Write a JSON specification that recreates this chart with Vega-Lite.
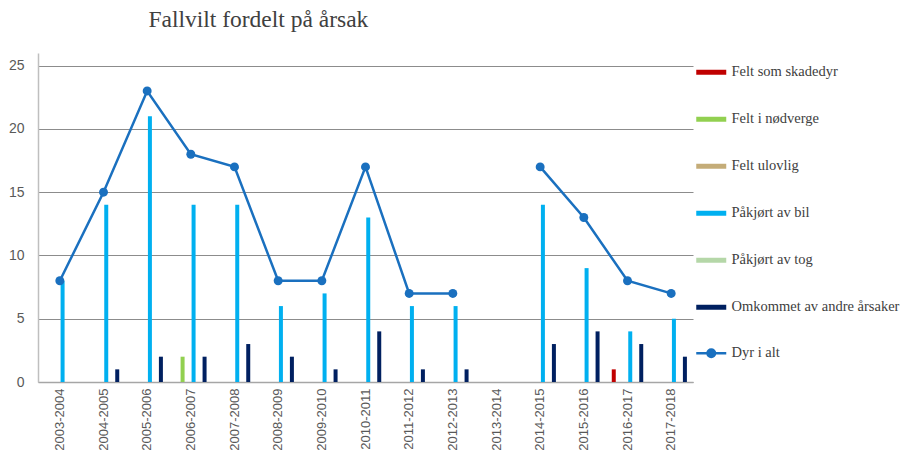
{
  "$schema": "https://vega.github.io/schema/vega-lite/v6.json",
  "autosize": "none",
  "width": 655,
  "height": 329,
  "padding": {"left": 38, "top": 53, "right": 213, "bottom": 75},
  "background": "white",
  "config": {"view": {"stroke": null}},
  "title": {
    "text": "Fallvilt fordelt på årsak",
    "anchor": "start",
    "dx": 140,
    "offset": 22,
    "font": "Liberation Serif",
    "fontSize": 23.5,
    "fontWeight": "normal",
    "color": "#404040"
  },
  "datasets": {
    "bars": [
      {"periode": "2003-2004", "arsak": "Påkjørt av bil", "antall": 8},
      {"periode": "2004-2005", "arsak": "Påkjørt av bil", "antall": 14},
      {"periode": "2004-2005", "arsak": "Omkommet av andre årsaker", "antall": 1},
      {"periode": "2005-2006", "arsak": "Påkjørt av bil", "antall": 21},
      {"periode": "2005-2006", "arsak": "Omkommet av andre årsaker", "antall": 2},
      {"periode": "2006-2007", "arsak": "Felt i nødverge", "antall": 2},
      {"periode": "2006-2007", "arsak": "Påkjørt av bil", "antall": 14},
      {"periode": "2006-2007", "arsak": "Omkommet av andre årsaker", "antall": 2},
      {"periode": "2007-2008", "arsak": "Påkjørt av bil", "antall": 14},
      {"periode": "2007-2008", "arsak": "Omkommet av andre årsaker", "antall": 3},
      {"periode": "2008-2009", "arsak": "Påkjørt av bil", "antall": 6},
      {"periode": "2008-2009", "arsak": "Omkommet av andre årsaker", "antall": 2},
      {"periode": "2009-2010", "arsak": "Påkjørt av bil", "antall": 7},
      {"periode": "2009-2010", "arsak": "Omkommet av andre årsaker", "antall": 1},
      {"periode": "2010-2011", "arsak": "Påkjørt av bil", "antall": 13},
      {"periode": "2010-2011", "arsak": "Omkommet av andre årsaker", "antall": 4},
      {"periode": "2011-2012", "arsak": "Påkjørt av bil", "antall": 6},
      {"periode": "2011-2012", "arsak": "Omkommet av andre årsaker", "antall": 1},
      {"periode": "2012-2013", "arsak": "Påkjørt av bil", "antall": 6},
      {"periode": "2012-2013", "arsak": "Omkommet av andre årsaker", "antall": 1},
      {"periode": "2014-2015", "arsak": "Påkjørt av bil", "antall": 14},
      {"periode": "2014-2015", "arsak": "Omkommet av andre årsaker", "antall": 3},
      {"periode": "2015-2016", "arsak": "Påkjørt av bil", "antall": 9},
      {"periode": "2015-2016", "arsak": "Omkommet av andre årsaker", "antall": 4},
      {"periode": "2016-2017", "arsak": "Felt som skadedyr", "antall": 1},
      {"periode": "2016-2017", "arsak": "Påkjørt av bil", "antall": 4},
      {"periode": "2016-2017", "arsak": "Omkommet av andre årsaker", "antall": 3},
      {"periode": "2017-2018", "arsak": "Påkjørt av bil", "antall": 5},
      {"periode": "2017-2018", "arsak": "Omkommet av andre årsaker", "antall": 2}
    ],
    "totals": [
      {"periode": "2003-2004", "total": 8, "seg": "a"},
      {"periode": "2004-2005", "total": 15, "seg": "a"},
      {"periode": "2005-2006", "total": 23, "seg": "a"},
      {"periode": "2006-2007", "total": 18, "seg": "a"},
      {"periode": "2007-2008", "total": 17, "seg": "a"},
      {"periode": "2008-2009", "total": 8, "seg": "a"},
      {"periode": "2009-2010", "total": 8, "seg": "a"},
      {"periode": "2010-2011", "total": 17, "seg": "a"},
      {"periode": "2011-2012", "total": 7, "seg": "a"},
      {"periode": "2012-2013", "total": 7, "seg": "a"},
      {"periode": "2014-2015", "total": 17, "seg": "b"},
      {"periode": "2015-2016", "total": 13, "seg": "b"},
      {"periode": "2016-2017", "total": 8, "seg": "b"},
      {"periode": "2017-2018", "total": 7, "seg": "b"}
    ]
  },
  "encoding": {
    "x": {
      "field": "periode",
      "type": "nominal",
      "sort": null,
      "scale": {
        "domain": ["2003-2004", "2004-2005", "2005-2006", "2006-2007", "2007-2008", "2008-2009", "2009-2010", "2010-2011", "2011-2012", "2012-2013", "2013-2014", "2014-2015", "2015-2016", "2016-2017", "2017-2018"],
        "paddingInner": 0.245,
        "paddingOuter": 0.1225
      },
      "axis": {
        "title": null,
        "labelAngle": -90,
        "labelFont": "Liberation Sans",
        "labelFontSize": 13,
        "labelColor": "#595959",
        "labelPadding": 6,
        "ticks": false,
        "domainColor": "#A6A6A6",
        "domainWidth": 1.5,
        "grid": false
      }
    }
  },
  "layer": [
    {
      "data": {"name": "bars"},
      "mark": {"type": "bar", "width": 4},
      "encoding": {
        "xOffset": {
          "field": "arsak",
          "type": "nominal",
          "scale": {
            "domain": ["Felt som skadedyr", "Felt i nødverge", "Felt ulovlig", "Påkjørt av bil", "Påkjørt av tog", "Omkommet av andre årsaker"]
          }
        },
        "y": {
          "field": "antall",
          "type": "quantitative",
          "scale": {"domain": [0, 25]},
          "axis": {
            "title": null,
            "values": [0, 5, 10, 15, 20, 25],
            "labelFont": "Liberation Sans",
            "labelFontSize": 14,
            "labelColor": "#595959",
            "labelPadding": 14,
            "ticks": false,
            "domain": true,
            "domainColor": "#BFBFBF",
            "domainWidth": 1.5,
            "gridColor": "#8C8C8C",
            "gridWidth": 1
          }
        },
        "color": {
          "field": "arsak",
          "type": "nominal",
          "scale": {
            "domain": ["Felt som skadedyr", "Felt i nødverge", "Felt ulovlig", "Påkjørt av bil", "Påkjørt av tog", "Omkommet av andre årsaker", "Dyr i alt"],
            "range": ["#C00000", "#92D050", "#C4AC78", "#00B0F0", "#B5D7A8", "#002060", "#1A70BF"]
          },
          "legend": {
            "title": null,
            "orient": "none",
            "legendX": 666,
            "legendY": 12,
            "symbolType": "stroke",
            "symbolSize": 900,
            "symbolStrokeWidth": 5,
            "rowPadding": 26,
            "labelFont": "Liberation Serif",
            "labelFontSize": 14.5,
            "labelColor": "#404040",
            "labelOffset": 13,
            "labelLimit": 300,
            "encode": {
              "symbols": {
                "update": {
                  "shape": {"signal": "datum.value === 'Dyr i alt' ? 'M-1,0H1M0.25,0A0.25,0.25,0,1,1,-0.25,0A0.25,0.25,0,1,1,0.25,0Z' : 'stroke'"},
                  "strokeWidth": {"signal": "datum.value === 'Dyr i alt' ? 2.5 : 5"},
                  "stroke": {"signal": "scale('color', datum.value)"},
                  "fill": {"signal": "scale('color', datum.value)"}
                }
              }
            }
          }
        }
      }
    },
    {
      "data": {"name": "totals"},
      "mark": {"type": "line", "strokeWidth": 2.5, "point": {"filled": true, "size": 80}},
      "encoding": {
        "y": {"field": "total", "type": "quantitative"},
        "detail": {"field": "seg", "type": "nominal"},
        "color": {"datum": "Dyr i alt"}
      }
    }
  ]
}
